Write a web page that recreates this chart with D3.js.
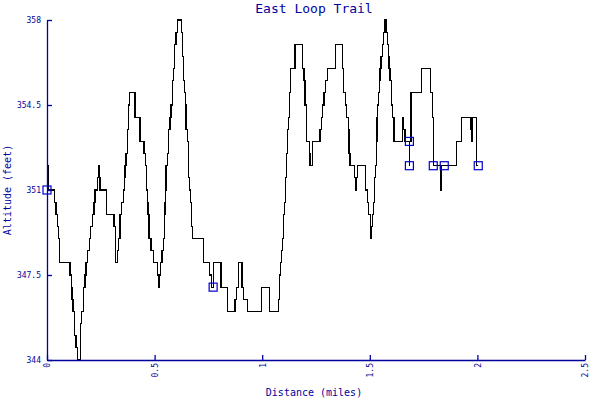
<!DOCTYPE html>
<html>
<head>
<meta charset="utf-8">
<script src="https://cdn.jsdelivr.net/npm/d3@7"></script>
<style>
  body { margin: 0; background: #fff; }
  svg { display: block; }
</style>
</head>
<body>
<svg id="fig" width="600" height="400"></svg>
<script>
// trail profile: distance (miles) where the altitude (feet) changes
const distances = [
  0, 0.005, 0.008, 0.034, 0.042, 0.048, 0.053, 0.057, 0.107, 0.112,
  0.116, 0.121, 0.127, 0.135, 0.143, 0.155, 0.161, 0.169, 0.177, 0.181,
  0.189, 0.197, 0.203, 0.211, 0.218, 0.223, 0.236, 0.239, 0.243, 0.246,
  0.276, 0.311, 0.317, 0.327, 0.333, 0.339, 0.347, 0.355, 0.359, 0.362,
  0.367, 0.373, 0.378, 0.383, 0.409, 0.432, 0.451, 0.457, 0.463, 0.466,
  0.469, 0.474, 0.483, 0.496, 0.513, 0.518, 0.520, 0.526, 0.534, 0.540,
  0.545, 0.548, 0.551, 0.553, 0.559, 0.564, 0.572, 0.576, 0.582, 0.587,
  0.592, 0.599, 0.605, 0.625, 0.631, 0.634, 0.638, 0.643, 0.646, 0.652,
  0.657, 0.661, 0.668, 0.672, 0.675, 0.726, 0.754, 0.764, 0.775, 0.809,
  0.838, 0.874, 0.882, 0.889, 0.906, 0.914, 0.931, 0.998, 1.033, 1.075,
  1.079, 1.086, 1.091, 1.095, 1.098, 1.103, 1.107, 1.109, 1.114, 1.117,
  1.123, 1.126, 1.132, 1.152, 1.186, 1.194, 1.199, 1.204, 1.207, 1.219,
  1.222, 1.234, 1.269, 1.276, 1.281, 1.287, 1.295, 1.303, 1.342, 1.372,
  1.379, 1.388, 1.393, 1.400, 1.403, 1.408, 1.428, 1.433, 1.436, 1.442,
  1.479, 1.490, 1.495, 1.502, 1.506, 1.509, 1.512, 1.518, 1.523, 1.527,
  1.530, 1.533, 1.537, 1.540, 1.544, 1.547, 1.552, 1.558, 1.563, 1.571,
  1.575, 1.581, 1.586, 1.589, 1.594, 1.599, 1.602, 1.606, 1.612, 1.653,
  1.658, 1.664, 1.684, 1.686, 1.691, 1.741, 1.781, 1.790, 1.795, 1.830,
  1.833, 1.904, 1.927, 1.967, 1.970, 1.972, 1.975, 1.997, 2.004
];
const altitudes = [
  351, 352, 351, 350.5, 350, 349.5, 349, 348, 347.5, 347,
  346.5, 346, 345, 344.5, 344, 345.5, 346, 347, 347.5, 348,
  348.5, 349, 349.5, 350, 350.5, 351, 351.5, 352, 351.5, 351,
  350, 349.5, 348, 348.5, 349, 350, 350.5, 351, 351.5, 352,
  352.5, 353.5, 354.5, 355, 354, 353, 352.5, 352, 351, 350.5,
  350, 349, 348.5, 348, 347.5, 347, 347.5, 348, 348.5, 349,
  350, 350.5, 351, 352, 352.5, 353.5, 354, 354.5, 355.5, 356,
  357, 357.5, 358, 357.5, 356.5, 355.5, 355, 354.5, 353.5, 353,
  351.5, 351, 350.5, 349.5, 349, 348, 347.5, 347, 348, 347,
  346, 346.5, 347, 348, 347, 346.5, 346, 347, 346, 346.5,
  347.5, 348, 348.5, 349, 350, 350.5, 351, 351.5, 352.5, 353.5,
  354, 355, 356, 357, 356, 355.5, 354.5, 354, 353, 352.5,
  352, 353, 353.5, 354, 354.5, 355, 355.5, 356, 357, 356,
  355, 354.5, 354, 353.5, 352.5, 352, 351.5, 351, 351.5, 352,
  351, 350.5, 350, 349.5, 349, 349.5, 350, 350.5, 351.5, 352,
  353, 354, 354.5, 355, 355.5, 356, 356.5, 357, 357.5, 358,
  357.5, 357, 356.5, 356, 355.5, 355, 354.5, 354, 353, 354,
  353.5, 353, 352, 353, 355, 356, 355, 354, 352, 351,
  352, 353, 354, 353.5, 354, 353, 354, 352, 352
];

// waypoint squares
const markerDist = [0, 0.772, 1.684, 1.684, 1.795, 1.846, 2.004];
const markerAlt = [351, 347, 353, 352, 352, 352, 352];

const xTicks = [0, 0.5, 1, 1.5, 2, 2.5];
const xTickLabels = ["0", "0.5", "1", "1.5", "2", "2.5"];
const yTicks = [344, 347.5, 351, 354.5, 358];
const yTickLabels = ["344", "347.5", "351", "354.5", "358"];

const chartTitle = "East Loop Trail";
const xTitle = "Distance (miles)";
const yTitle = "Altitude (feet)";

const axisColor = "#00009c";
const font = "'DejaVu Sans Mono', monospace";

const svg = d3.select("#fig");

let xScale = d3.scaleLinear()
    .domain([0, 2.5])
    .range([47, 585]);

let yScale = d3.scaleLinear()
    .domain([344, 358])
    .range([360, 20]);

// profile line
const points = distances.map((d, i) => [d, altitudes[i]]);

const line = d3.line()
    .x(d => xScale(d[0]))
    .y(d => yScale(d[1]))
    .curve(d3.curveStepAfter);

svg.append("path")
    .datum(points)
    .attr("d", line)
    .attr("fill", "none")
    .attr("stroke", "#000")
    .attr("stroke-width", 1.2)
    .attr("shape-rendering", "crispEdges");

// axes
let xAxis = svg.append("g")
    .attr("transform", `translate(0,${yScale(344)})`)
    .call(d3.axisBottom(xScale)
        .tickValues(xTicks)
        .tickFormat((d, i) => xTickLabels[i])
        .tickSizeInner(-5)
        .tickSizeOuter(0));

xAxis.selectAll("text")
    .attr("transform", "rotate(-90)")
    .attr("text-anchor", "end")
    .attr("x", -3)
    .attr("y", 0)
    .attr("dy", "0.35em");

let yAxis = svg.append("g")
    .attr("transform", `translate(${xScale(0)},0)`)
    .call(d3.axisLeft(yScale)
        .tickValues(yTicks)
        .tickFormat((d, i) => yTickLabels[i])
        .tickSizeInner(-5)
        .tickSizeOuter(0)
        .tickPadding(6));

svg.selectAll(".domain, .tick line")
    .attr("stroke", axisColor)
    .attr("stroke-width", 1.3);

svg.selectAll(".tick text")
    .attr("fill", axisColor)
    .style("font-family", font)
    .style("font-size", "8px");

// markers
svg.append("g")
    .selectAll("rect")
    .data(markerDist)
    .join("rect")
    .attr("x", d => xScale(d) - 4)
    .attr("y", (d, i) => yScale(markerAlt[i]) - 4)
    .attr("width", 8)
    .attr("height", 8)
    .attr("fill", "none")
    .attr("stroke", "#0000cc")
    .attr("stroke-width", 1.2);

// titles
svg.append("text")
    .attr("x", 314)
    .attr("y", 13)
    .attr("text-anchor", "middle")
    .attr("fill", axisColor)
    .style("font-family", font)
    .style("font-size", "13px")
    .text(chartTitle);

svg.append("text")
    .attr("x", 314)
    .attr("y", 396)
    .attr("text-anchor", "middle")
    .attr("fill", axisColor)
    .style("font-family", font)
    .style("font-size", "10px")
    .text(xTitle);

svg.append("text")
    .attr("transform", "translate(11,190) rotate(-90)")
    .attr("text-anchor", "middle")
    .attr("fill", axisColor)
    .style("font-family", font)
    .style("font-size", "10px")
    .text(yTitle);
</script>
</body>
</html>
